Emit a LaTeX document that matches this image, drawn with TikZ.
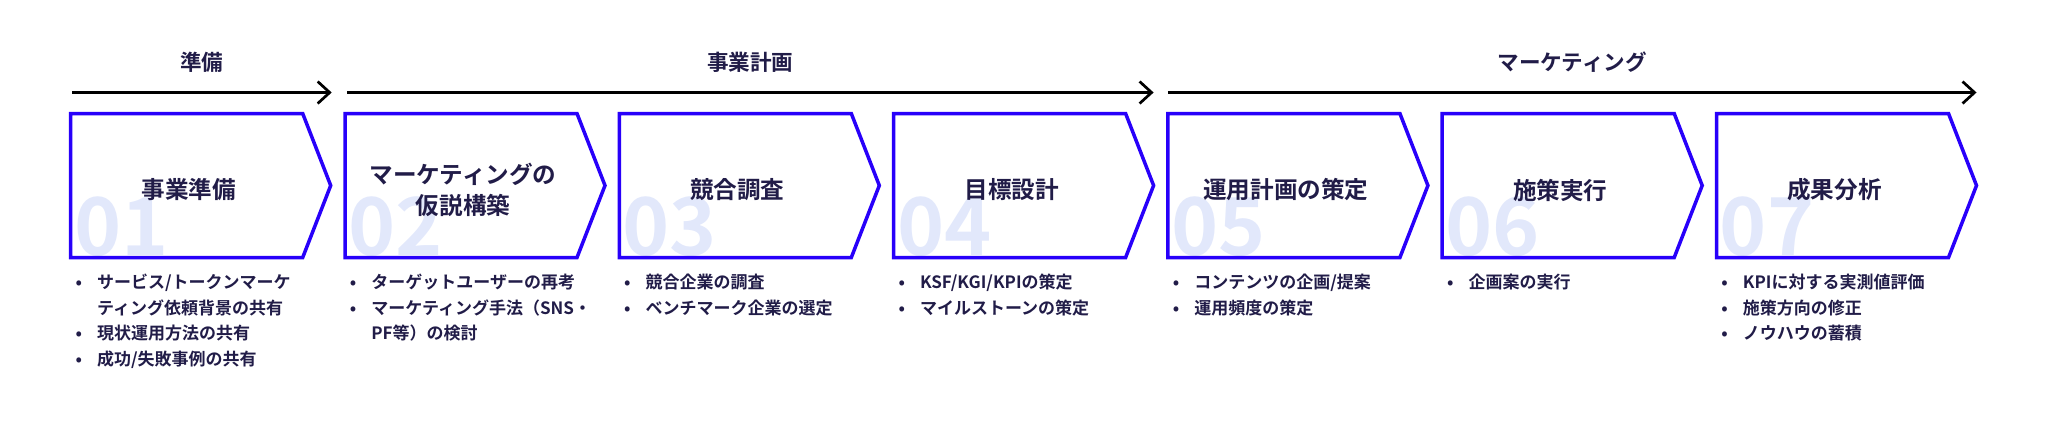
\documentclass[tikz,border=0pt]{standalone}
\usepackage{fontspec}
\setmainfont{Noto Sans CJK JP}[BoldFont={Noto Sans CJK JP Bold}]
\usetikzlibrary{arrows.meta,calc}
\definecolor{cBlue}{RGB}{40,0,250}
\definecolor{cInk}{RGB}{33,28,72}
\definecolor{cPale}{RGB}{226,232,251}
\newcommand{\bitem}{\makebox[10.75pt][l]{•}}
\newcommand{\bcont}{\hspace*{10.75pt}}

\begin{document}
\begin{tikzpicture}[
			x=0.5pt,y=-0.5pt,
			>={Straight Barb[length=6pt,width=11pt]},
			chev/.style={
				draw=cBlue,
				line width=1.75pt,
				line join=miter
			},
			num/.style={
				text=cPale,
				inner sep=0pt,
				font=\fontsize{40}{40}\selectfont\bfseries
			},
			ttl/.style={
				text=cInk,
				align=center,
				font=\fontsize{11.8}{15.5}\selectfont\bfseries
			},
			lst/.style={
				text=cInk,
				inner sep=0pt,
				anchor=north west,
				align=left,
				font=\fontsize{8.5}{12.85}\selectfont\bfseries
			},
			phase/.style={
				text=cInk,
				font=\fontsize{10.8}{12}\selectfont\bfseries
			},
			flow/.style={->,line width=1.35pt}
			]
			\useasboundingbox (0,0) rectangle (2048,420);
			% seven steps
			\foreach \i in {1,...,7}{
				\coordinate (s\i) at ({70.7+(\i-1)*274.3},113.5);
				\node[num,anchor=base west](n\i) at ($(s\i)+(3,142)$){0\i};
				\draw[chev](s\i) -- ++(232,0) -- ++(28,72) coordinate (p\i) -- ++(-28,72) -- ++(-232,0) -- cycle;
				\coordinate (c\i) at ($(s\i)+(118,76.5)$);
				\coordinate (b\i) at ($(s\i)+(4.5,160)$);
			}
			\node[ttl](t1) at (c1){事業準備};
			\node[ttl](t2) at (c2){マーケティングの\\仮説構築};
			\node[ttl](t3) at (c3){競合調査};
			\node[ttl](t4) at (c4){目標設計};
			\node[ttl](t5) at (c5){運用計画の策定};
			\node[ttl](t6) at (c6){施策実行};
			\node[ttl](t7) at (c7){成果分析};
			\node[lst](l1) at (b1){\bitem サービス/トークンマーケ\\\bcont ティング依頼背景の共有\\\bitem 現状運用方法の共有\\\bitem 成功/失敗事例の共有};
			\node[lst](l2) at (b2){\bitem ターゲットユーザーの再考\\\bitem マーケティング手法（SNS・\\\bcont PF等）の検討};
			\node[lst](l3) at (b3){\bitem 競合企業の調査\\\bitem ベンチマーク企業の選定};
			\node[lst](l4) at (b4){\bitem KSF/KGI/KPIの策定\\\bitem マイルストーンの策定};
			\node[lst](l5) at (b5){\bitem コンテンツの企画/提案\\\bitem 運用頻度の策定};
			\node[lst](l6) at (b6){\bitem 企画案の実行};
			\node[lst](l7) at (b7){\bitem KPIに対する実測値評価\\\bitem 施策方向の修正\\\bitem ノウハウの蓄積};
			% phases
			\coordinate (a0) at ($(s1)+(1.5,-21)$);
			\coordinate (a1) at ($(p1)+(1,-93)$);
			\coordinate (a2) at ($(s2)+(2,-21)$);
			\coordinate (a3) at ($(p4)+(0,-93)$);
			\coordinate (a4) at ($(s5)+(0,-21)$);
			\coordinate (a5) at ($(p7)+(0,-93)$);
			\draw[flow](a0)--(a1);
			\draw[flow](a2)--(a3);
			\draw[flow](a4)--(a5);
			\node[phase](h1) at ($(a0)!0.5!(a1)+(0,-30.5)$){準備};
			\node[phase](h2) at ($(a2)!0.5!(a3)+(0,-30.5)$){事業計画};
			\node[phase](h3) at ($(a4)!0.5!(a5)+(0,-30.5)$){マーケティング};
		\end{tikzpicture}
\end{document}
